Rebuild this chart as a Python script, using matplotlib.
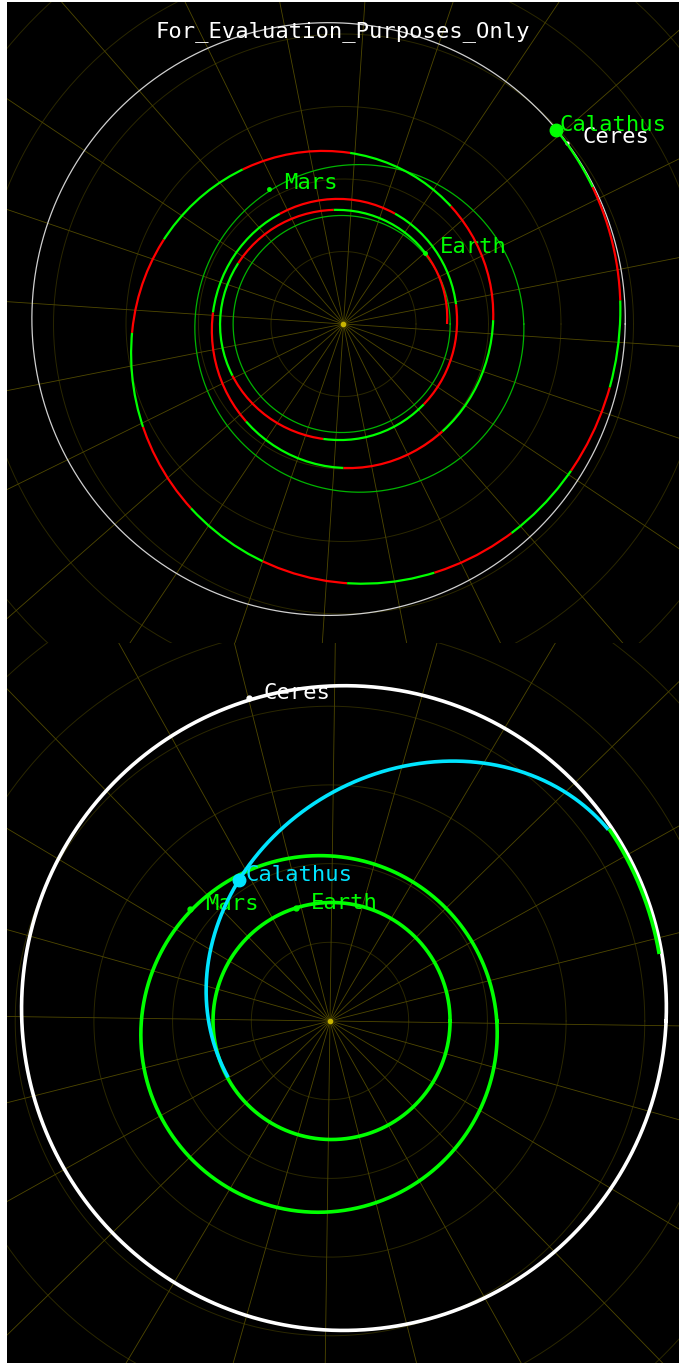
import numpy as np
import matplotlib
matplotlib.use("Agg")
import matplotlib.pyplot as plt

# ---------------------------------------------------------------
# Orbit data, distances in units of 1e8 km, angles in degrees
# ---------------------------------------------------------------
TITLE = "For_Evaluation_Purposes_Only"

# Upper view (whole mission, thin orbits)
top_orbit_names = ["Earth", "Mars", "Ceres"]
top_orbit_a = [1.497, 2.270, 4.093]
top_orbit_e = [0.017, 0.100, 0.053]
top_orbit_peri = [0.0, 164.5, -18.4]

# Spiral trajectory of Calathus: polar nodes (cumulative angle, radius)
traj_theta = [0, 90, 180, 270, 360, 450, 540, 630, 720, 810, 900, 990, 1080, 1122.4]
traj_r = [1.428, 1.572, 1.703, 1.600, 1.566, 1.724, 1.814, 1.986, 2.062, 2.372,
          2.903, 3.572, 3.814, 3.972]
# cumulative angles where the trajectory colour switches (red <-> green)
traj_switch = [40, 95, 150, 205, 260, 315, 370, 425, 480, 535, 585, 630, 672.7,
               721.5, 767.7, 807.8, 843.1, 874.8, 902.4, 927.2, 950.4, 971.2,
               990.8, 1010.1, 1028.8, 1047.2, 1066.6, 1084.9, 1108.8]
traj_last_colour = "green"

# Body markers in the upper view: (name, angle, radius, colour)
top_bodies = [("Mars", 119.0, 2.13, "#00ff00"),
              ("Earth", 41.1, 1.491, "#00ff00")]
top_ceres = (38.9, 3.97)
top_calathus = (42.4, 3.972)

# Lower view (current state, thick orbits)
bot_orbit_names = ["Earth", "Mars", "Ceres"]
bot_orbit_a = [1.506, 2.270, 4.100]
bot_orbit_e = [0.013, 0.095, 0.059]
bot_orbit_peri = [180.0, 49.7, 222.8]

# Transfer arc: perihelion / aphelion distance, perihelion angle, end angle
transfer_q = 1.479
transfer_Q = 4.31
transfer_peri = 209.0
transfer_end = 34.5
ceres_arc_end = 11.5

bot_bodies = [("Mars", 141.3, 2.278, "#00ff00"),
              ("Earth", 106.7, 1.50, "#00ff00"),
              ("Ceres", 104.1, 4.23, "white")]
bot_calathus = (122.8, 2.132)

GRID_STEP = 1.0          # rings every 1e8 km
SPOKE_STEP = 15.0

# ---------------------------------------------------------------
W, H, DPI = 679, 1363, 100
plt.rcParams["font.family"] = ["DejaVu Sans Mono"]
fig = plt.figure(figsize=(W / DPI, H / DPI), dpi=DPI, facecolor="white")


def panel(box_px, centre_px, scale):
    left, top, right, bottom = box_px
    ax = fig.add_axes([left / W, 1 - bottom / H, (right - left) / W, (bottom - top) / H])
    cx, cy = centre_px
    ax.set_xlim((left - cx) / scale, (right - cx) / scale)
    ax.set_ylim((cy - bottom) / scale, (cy - top) / scale)
    ax.set_facecolor("black")
    ax.set_xticks([])
    ax.set_yticks([])
    for s in ax.spines.values():
        s.set_visible(False)
    return ax


def ellipse_xy(a, e, peri, t0=0, t1=360, n=720):
    th = np.radians(np.linspace(t0, t1, n))
    r = a * (1 - e ** 2) / (1 + e * np.cos(th - np.radians(peri)))
    return r * np.cos(th), r * np.sin(th)


def polar(ang, r):
    return r * np.cos(np.radians(ang)), r * np.sin(np.radians(ang))


def draw_grid(ax, spoke_offset):
    th = np.linspace(0, 2 * np.pi, 400)
    for k in range(1, 9):
        ax.plot(k * GRID_STEP * np.cos(th), k * GRID_STEP * np.sin(th),
                color="#2a2700", lw=0.7, zorder=1)
    for k in range(24):
        a = np.radians(spoke_offset + k * SPOKE_STEP)
        ax.plot([0, 12 * np.cos(a)], [0, 12 * np.sin(a)], color="#4f4800",
                lw=0.6, zorder=1)
    ax.plot(0, 0, "o", color="#c8b400", ms=3, zorder=2)


def hermite(theta, r, n=24):
    theta = np.asarray(theta, float)
    r = np.asarray(r, float)
    m = np.gradient(r, theta)
    ts, rs = [], []
    for i in range(len(theta) - 1):
        h = theta[i + 1] - theta[i]
        t = np.linspace(0, 1, n, endpoint=False)
        h00 = 2 * t ** 3 - 3 * t ** 2 + 1
        h10 = t ** 3 - 2 * t ** 2 + t
        h01 = -2 * t ** 3 + 3 * t ** 2
        h11 = t ** 3 - t ** 2
        ts.append(theta[i] + t * h)
        rs.append(h00 * r[i] + h10 * h * m[i] + h01 * r[i + 1] + h11 * h * m[i + 1])
    ts.append([theta[-1]])
    rs.append([r[-1]])
    return np.concatenate(ts), np.concatenate(rs)


label_kw = dict(textcoords="offset pixels", fontsize=16, va="center", ha="left")

# ---------------- upper view ----------------
ax1 = panel((7, 2, 679, 643), (343.5, 324), 72.5)
draw_grid(ax1, -3.8)
for name, a, e, w in zip(top_orbit_names, top_orbit_a, top_orbit_e, top_orbit_peri):
    x, y = ellipse_xy(a, e, w)
    col = "#d0d0d0" if name == "Ceres" else "#00b400"
    ax1.plot(x, y, color=col, lw=0.9, zorder=3)

tt, rr = hermite(traj_theta, traj_r)
edges = [tt[0]] + list(traj_switch) + [tt[-1]]
nseg = len(edges) - 1
other = "red" if traj_last_colour == "green" else "green"
hexcol = {"green": "#00ff00", "red": "#ff0000"}
for i in range(nseg):
    sel = (tt >= edges[i]) & (tt <= edges[i + 1])
    ts = np.concatenate([[edges[i]], tt[sel], [edges[i + 1]]])
    rs = np.interp(ts, tt, rr)
    x, y = polar(ts, rs)
    c = traj_last_colour if (nseg - 1 - i) % 2 == 0 else other
    ax1.plot(x, y, color=hexcol[c], lw=1.6, zorder=4, solid_capstyle="butt")

for name, ang, r, col in top_bodies:
    x, y = polar(ang, r)
    ax1.plot(x, y, "o", color=col, ms=2.5, zorder=5)
    ax1.annotate(name, (x, y), xytext=(15, 6), color=col, **label_kw)
x, y = polar(*top_ceres)
ax1.plot(x, y, "o", color="white", ms=2.0, zorder=3.5)
ax1.annotate("Ceres", (x, y), xytext=(15, 6), color="white", **label_kw)
x, y = polar(*top_calathus)
ax1.plot(x, y, "o", color="#00ff00", ms=9, zorder=6)
ax1.annotate("Calathus", (x, y), xytext=(3, 5), color="#00ff00", **label_kw)
ax1.text(0.5, 1 - 30 / 641, TITLE, transform=ax1.transAxes, color="white",
         fontsize=16, ha="center", va="center", zorder=7)

# ---------------- lower view ----------------
ax2 = panel((7, 643, 679, 1363), (330, 1021), 78.7)
draw_grid(ax2, -0.8)
for name, a, e, w in zip(bot_orbit_names, bot_orbit_a, bot_orbit_e, bot_orbit_peri):
    x, y = ellipse_xy(a, e, w)
    col = "white" if name == "Ceres" else "#00ff00"
    ax2.plot(x, y, color=col, lw=2.6, zorder=3)

ta = (transfer_q + transfer_Q) / 2
te = (transfer_Q - transfer_q) / (transfer_Q + transfer_q)
x, y = ellipse_xy(ta, te, transfer_peri, transfer_peri, transfer_end)
ax2.plot(x, y, color="#00e5ff", lw=2.6, zorder=4, solid_capstyle="butt")
ci = bot_orbit_names.index("Ceres")
x, y = ellipse_xy(bot_orbit_a[ci] * 0.992, bot_orbit_e[ci], bot_orbit_peri[ci],
                  transfer_end, ceres_arc_end)
ax2.plot(x, y, color="#00ff00", lw=2.6, zorder=4, solid_capstyle="butt")

for name, ang, r, col in bot_bodies:
    x, y = polar(ang, r)
    ax2.plot(x, y, "o", color=col, ms=3.5, zorder=5)
    ax2.annotate(name, (x, y), xytext=(15, 5), color=col, **label_kw)
x, y = polar(*bot_calathus)
ax2.plot(x, y, "o", color="#00e5ff", ms=9, zorder=6)
ax2.annotate("Calathus", (x, y), xytext=(6, 5), color="#00e5ff", **label_kw)

fig.savefig("out.png", dpi=DPI, facecolor="white")
